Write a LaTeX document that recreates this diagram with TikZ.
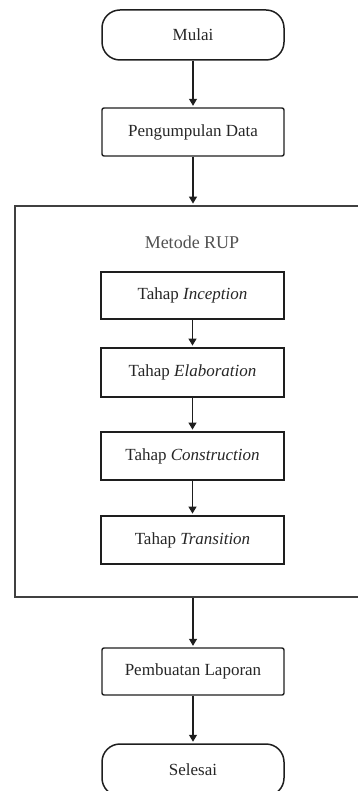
\documentclass[tikz,border=0pt]{standalone}
\usepackage{fontspec}
\setmainfont{Liberation Serif}
\usetikzlibrary{arrows.meta}
\definecolor{ink}{HTML}{1E1E1E}
\definecolor{txt}{HTML}{262626}
\tikzset{
  base/.style={draw=ink, text=txt, inner sep=0pt, align=center,
    font=\fontsize{17}{20}\selectfont, minimum width=182pt},
  terminal/.style={base, line width=1.5pt, rounded corners=18pt, minimum height=50pt},
  process/.style={base, line width=1.4pt, rounded corners=2pt, minimum height=48pt},
  phase/.style={base, line width=1.8pt, minimum width=183pt, minimum height=48pt},
  frame/.style={draw=ink!85, line width=1.8pt, inner sep=0pt},
  flow/.style={draw=ink, line width=1.2pt, -{Triangle[width=8pt,length=7pt]}, shorten >=1.5pt},
}
\begin{document}
\begin{tikzpicture}[x=1pt,y=-1pt]
  \useasboundingbox (0,0) rectangle (358,791);
  \clip (0,0) rectangle (358,791);

  % main flow
  \node[terminal] (start) at (193,35) {Mulai};
  \node[process] (collect) at (193,132) {Pengumpulan Data};

  % RUP frame with its four phases
  \node[frame, minimum width=356pt, minimum height=391pt] (rup) at (193,401.5) {};
  \node[text=txt!80, font=\fontsize{18}{21}\selectfont] (ruptitle) at (192,242) {Metode RUP};
  \node[phase, minimum height=47pt] (inc) at (192.5,295.5) {Tahap \textit{Inception}};
  \node[phase, minimum height=49pt] (elab) at (192.5,372.5) {Tahap \textit{Elaboration}};
  \node[phase] (cons) at (192.5,456) {Tahap \textit{Construction}};
  \node[phase] (trans) at (192.5,540) {Tahap \textit{Transition}};

  \node[process, minimum height=47pt] (report) at (193,671.5) {Pembuatan Laporan};
  \node[terminal, minimum height=52pt] (finish) at (193,770) {Selesai};

  % connectors
  \draw[flow] (start) -- (collect);
  \draw[flow] (collect) -- (collect |- rup.north);
  \draw[flow] (inc) -- (elab);
  \draw[flow] (elab) -- (cons);
  \draw[flow] (cons) -- (trans);
  \draw[flow] (report |- rup.south) -- (report);
  \draw[flow] (report) -- (finish);
\end{tikzpicture}
\end{document}
